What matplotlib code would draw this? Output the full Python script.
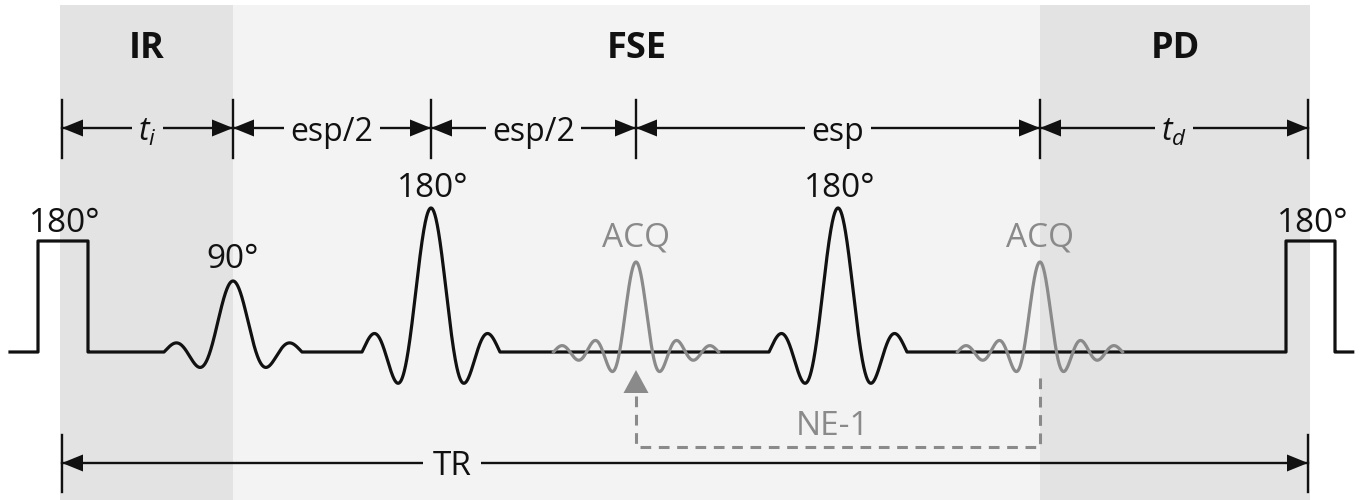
import matplotlib
matplotlib.use('Agg')
import matplotlib.pyplot as plt
import numpy as np

plt.rcParams['font.family'] = ['Open Sans', 'DejaVu Sans']
plt.rcParams['mathtext.fontset'] = 'custom'
plt.rcParams['mathtext.it'] = 'Open Sans:italic'
plt.rcParams['mathtext.rm'] = 'Open Sans'

# sequence regions (pixel positions along the time axis)
region_edges = [60, 233, 1040, 1310]
region_names = ['IR', 'FSE', 'PD']
region_colors = ['#e3e3e3', '#f3f3f3', '#e3e3e3']

# timing marks and their labels
dim_ticks = [62, 233, 431, 636, 1040, 1308]
dim_labels = ['$t_i$', 'esp/2', 'esp/2', 'esp', '$t_d$']

# RF pulses (sinc) : centre, amplitude, label
rf_centers = [233, 431, 838]
rf_amps = [71, 144, 144]
rf_labels = ['90°', '180°', '180°']

# acquisition windows
acq_centers = [636, 1040]
acq_amp = 90

# inversion pulses (rectangular): start, end
inv_starts = [38, 1286]
inv_ends = [88, 1335]
inv_height = 111

baseline = 352
wave_start, wave_end = 10, 1353
tr_span = [62, 1308]

fig = plt.figure(figsize=(13.66, 5), dpi=100)
ax = fig.add_axes([0, 0, 1, 1])
ax.set_xlim(0, 1366)
ax.set_ylim(500, 0)
ax.axis('off')

# background shading
for i in range(3):
    ax.fill_between([region_edges[i], region_edges[i + 1]], 5, 500, color=region_colors[i], lw=0, zorder=0)
    ax.text((region_edges[i] + region_edges[i + 1]) / 2, 58, region_names[i], ha='center', va='baseline',
            fontsize=26, fontweight='bold', color='#111111')

# black waveform: baseline + rect inversions + sinc pulses
x = np.arange(wave_start, wave_end, 0.25)
edges = np.array(inv_starts + inv_ends, dtype=float)
x = np.sort(np.concatenate([x, edges - 1e-6, edges + 1e-6]))
y = np.full_like(x, baseline, dtype=float)
for s, e in zip(inv_starts, inv_ends):
    y[(x > s) & (x < e)] -= inv_height
scale = 23.0
for c, a in zip(rf_centers, rf_amps):
    u = (x - c) / scale
    m = np.abs(u) <= 3
    y[m] -= a * np.sinc(u[m])
ax.plot(x, y, color='#111111', lw=2.3, zorder=3, solid_joinstyle='round')

# gray acquisition echoes
gray = '#8a8a8a'
acq_scale = 16.5
for c in acq_centers:
    u = np.linspace(-5, 5, 800)
    ax.plot(c + u * acq_scale, baseline - acq_amp * np.sinc(u), color=gray, lw=2.3, zorder=4)
    ax.text(c, 246, 'ACQ', ha='center', va='baseline', fontsize=24, color=gray)

# labels over the pulses
ax.text(233, 268, rf_labels[0], ha='center', va='baseline', fontsize=24, color='#111111')
for c, lab in zip(rf_centers[1:], rf_labels[1:]):
    ax.text(c + 2, 197, lab, ha='center', va='baseline', fontsize=24, color='#111111')
for s, e in zip(inv_starts, inv_ends):
    ax.text((s + e) / 2 + 2, 232, '180°', ha='center', va='baseline', fontsize=24, color='#111111')


def arrow_head(tip, y0, direction, color='#111111', length=21, half=8.5):
    ax.fill([tip, tip - direction * length, tip - direction * length], [y0, y0 - half, y0 + half],
            color=color, lw=0, zorder=5)


# timing dimension row
dim_y = 128
for t in dim_ticks:
    ax.plot([t, t], [100, 158], color='#111111', lw=1.7, zorder=5)
for i, lab in enumerate(dim_labels):
    a, b = dim_ticks[i], dim_ticks[i + 1]
    mid = (a + b) / 2
    ax.plot([a, b], [dim_y, dim_y], color='#111111', lw=1.7, zorder=4)
    arrow_head(a, dim_y, -1)
    arrow_head(b, dim_y, 1)
    k = np.searchsorted(region_edges, mid) - 1
    ax.text(mid, 141, lab, ha='center', va='baseline', fontsize=23, color='#111111', zorder=6,
            bbox=dict(boxstyle='square,pad=0.2', fc=region_colors[k], ec='none'))

# echo-train loop (NE-1)
ax.plot([acq_centers[0], acq_centers[0], acq_centers[1], acq_centers[1]], [396, 447, 447, 374],
        color=gray, lw=2.2, ls=(0, (3.5, 2.5)), zorder=4)
ax.fill([acq_centers[0], acq_centers[0] - 12.5, acq_centers[0] + 12.5], [370, 393, 393], color=gray, lw=0, zorder=5)
ax.text((acq_centers[0] + acq_centers[1]) / 2 - 5, 435, 'NE-1', ha='center', va='baseline', fontsize=24, color=gray)

# TR
tr_y = 463
for t in tr_span:
    ax.plot([t, t], [435, 492], color='#111111', lw=1.7, zorder=5)
ax.plot(tr_span, [tr_y, tr_y], color='#111111', lw=1.7, zorder=4)
arrow_head(tr_span[0], tr_y, -1)
arrow_head(tr_span[1], tr_y, 1)
ax.text(452, 475, 'TR', ha='center', va='baseline', fontsize=24, color='#111111', zorder=6,
        bbox=dict(boxstyle='square,pad=0.3', fc=region_colors[1], ec='none'))

fig.savefig('out.png', dpi=100, facecolor='white')
